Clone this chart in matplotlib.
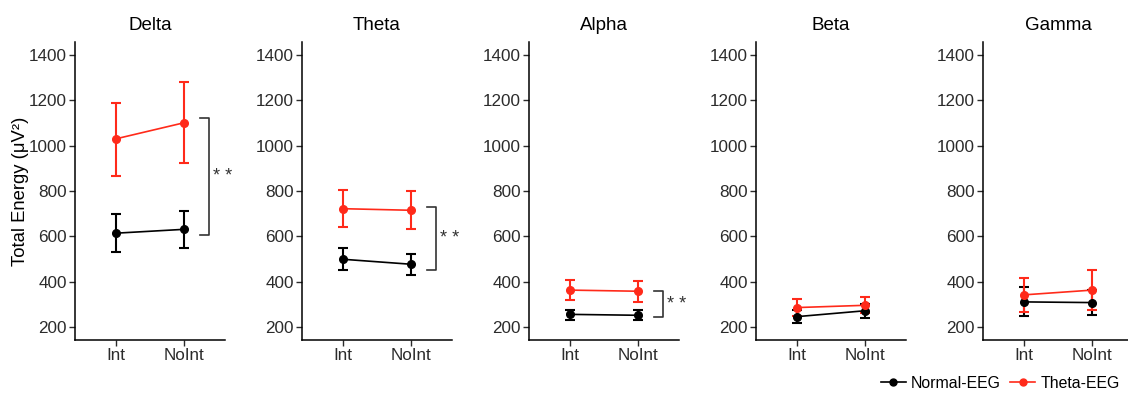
import numpy as np
import matplotlib.pyplot as plt
from matplotlib.lines import Line2D

plt.rcParams['font.family'] = ['Liberation Sans', 'DejaVu Sans']

bands = ["Delta", "Theta", "Alpha", "Beta", "Gamma"]
conditions = ["Int", "NoInt"]

# mean, lower and upper CI per band (Int, NoInt)
normal_mean = [[614, 631], [499, 477], [256, 252], [246, 272], [311, 308]]
normal_lo = [[530, 548], [450, 430], [232, 230], [216, 241], [248, 252]]
normal_hi = [[698, 713], [548, 524], [277, 277], [274, 303], [375, 364]]

theta_mean = [[1030, 1101], [722, 715], [363, 358], [286, 296], [342, 363]]
theta_lo = [[868, 922], [640, 632], [318, 312], [249, 260], [265, 274]]
theta_hi = [[1190, 1280], [803, 798], [408, 403], [324, 332], [418, 452]]

# significance brackets (None where absent)
sig_lo = [608, 452, 244, None, None]
sig_hi = [1120, 728, 358, None, None]
sig_text = ["* *", "* *", "* *", None, None]

red = "#ff2a1a"
fig = plt.figure(figsize=(11.28, 3.99), dpi=100)

x = np.arange(1, 3)
for i, band in enumerate(bands):
    left = (75 + i * 227) / 1128
    ax = fig.add_axes([left, 59 / 399, 150 / 1128, 298 / 399])
    for mean, lo, hi, col in [(normal_mean, normal_lo, normal_hi, "black"),
                              (theta_mean, theta_lo, theta_hi, red)]:
        m = np.array(mean[i])
        err = np.array([m - np.array(lo[i]), np.array(hi[i]) - m])
        ax.errorbar(x, m, yerr=err, color=col, marker="o", markersize=5.5, lw=1.2,
                    elinewidth=1.5, capsize=3.5, capthick=1.5)
    if sig_lo[i] is not None:
        bx, bx0 = 2.36, 2.23
        ax.plot([bx0, bx, bx, bx0], [sig_hi[i], sig_hi[i], sig_lo[i], sig_lo[i]],
                color="#333333", lw=1.2, clip_on=False)
        ax.text(2.43, (sig_lo[i] + sig_hi[i]) / 2, sig_text[i], fontsize=13,
                color="#333333", ha="left", va="center", clip_on=False)
    ax.set_xlim(0.4, 2.6)
    ax.set_ylim(143, 1457)
    ax.set_yticks(range(200, 1401, 200))
    ax.set_xticks(x)
    ax.set_xticklabels(conditions)
    ax.set_title(band, fontsize=13.5, color="black", pad=9)
    for s in ["top", "right"]:
        ax.spines[s].set_visible(False)
    for s in ["left", "bottom"]:
        ax.spines[s].set_linewidth(1.1)
        ax.spines[s].set_color("black")
    ax.tick_params(labelsize=12.3, colors="#2b2b2b", length=4, width=1.0, pad=2)
    if i == 0:
        ax.set_ylabel("Total Energy (\u03bcV\u00b2)", fontsize=13.3)
        ax.yaxis.set_label_coords(-0.305, 0.5)

handles = [Line2D([], [], color="black", marker="o", markersize=5, lw=1.2),
           Line2D([], [], color=red, marker="o", markersize=5, lw=1.2)]
fig.legend(handles, ["Normal-EEG", "Theta-EEG"], loc="lower right", ncol=2, frameon=False,
           bbox_to_anchor=(1.005, -0.015), fontsize=11.4, handlelength=1.6,
           handletextpad=0.3, columnspacing=0.6)

plt.savefig("out.png", dpi=100)
